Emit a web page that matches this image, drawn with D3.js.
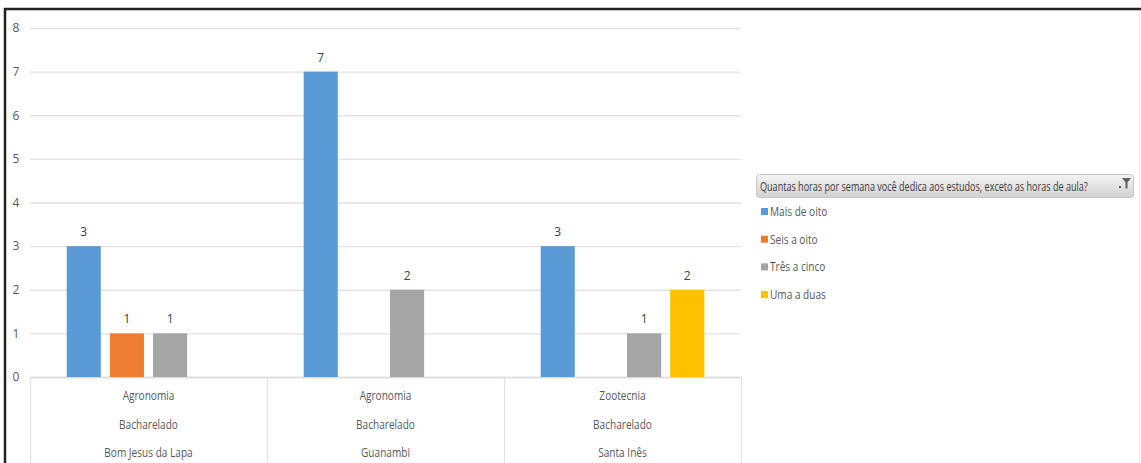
<!DOCTYPE html>
<html><head><meta charset="utf-8">
<script src="https://cdn.jsdelivr.net/npm/d3@7"></script>
<style>
body{margin:0;background:#fff;}
svg{display:block;font-family:"Open Sans",sans-serif;}
</style></head>
<body><svg id="c" width="1141" height="463"></svg>
<script>
const categories = [
  ["Agronomia","Bacharelado","Bom Jesus da Lapa"],
  ["Agronomia","Bacharelado","Guanambi"],
  ["Zootecnia","Bacharelado","Santa Inês"]
];
const seriesNames = ["Mais de oito","Seis a oito","Três a cinco","Uma a duas"];
const seriesColors = ["#5b9bd5","#ed7d31","#a5a5a5","#ffc000"];
const maisDeOito = [3,7,3];
const seisAOito = [1,null,null];
const tresACinco = [1,2,1];
const umaADuas = [null,null,2];
const yTicks = [0,1,2,3,4,5,6,7,8];
const legendTitle = "Quantas horas por semana você dedica aos estudos, exceto as horas de aula?";

const values = [maisDeOito, seisAOito, tresACinco, umaADuas];
const svg = d3.select("#c");
const W = 1141, H = 463;
const mLeft = 30, mRight = 741, mTop = 28, mBottom = 377;

// frame
svg.append("line").attr("x1",4).attr("x2",W).attr("y1",9).attr("y2",9).attr("stroke","#222").attr("stroke-width",2.5);
svg.append("line").attr("x1",5).attr("x2",5).attr("y1",8).attr("y2",H).attr("stroke","#222").attr("stroke-width",2.5);
svg.append("line").attr("x1",1139.5).attr("x2",1139.5).attr("y1",10).attr("y2",H).attr("stroke","#e8e8e8").attr("stroke-width",1);

const x0 = d3.scaleBand().domain(d3.range(categories.length)).range([mLeft,mRight]).paddingInner(0).paddingOuter(0);
const x1 = d3.scaleBand().domain(d3.range(seriesNames.length)).range([0,x0.bandwidth()]).paddingInner(0.21).paddingOuter(0.85);
const y = d3.scaleLinear().domain([0,8]).range([mBottom,mTop]);

// gridlines
const yAxis = d3.axisLeft(y).tickValues(yTicks).tickSize(-(mRight-mLeft)).tickPadding(10);
const g = svg.append("g").attr("transform",`translate(${mLeft},0)`).call(yAxis);
g.select(".domain").remove();
g.selectAll(".tick line").attr("stroke","#e3e3e3").attr("stroke-width",1.3);
g.selectAll(".tick text").attr("fill","#595959").attr("font-size",12).attr("x",-14).attr("text-anchor","middle")
  .attr("font-family","Open Sans, sans-serif");

// category box
svg.append("line").attr("x1",mLeft).attr("x2",mRight).attr("y1",mBottom+0.5).attr("y2",mBottom+0.5).attr("stroke","#dcdcdc").attr("stroke-width",1.3);
const bounds = d3.range(categories.length+1).map(i => i<categories.length ? x0(i) : x0(i-1)+x0.bandwidth());
svg.selectAll(".vb").data(bounds).join("line")
  .attr("x1",d=>d+0.5).attr("x2",d=>d+0.5).attr("y1",mBottom).attr("y2",H)
  .attr("stroke","#e3e3e3").attr("stroke-width",1.3);

// bars
const groups = svg.selectAll(".grp").data(categories).join("g").attr("transform",(d,i)=>`translate(${x0(i)},0)`);
groups.each(function(cat, ci){
  const gg = d3.select(this);
  values.forEach((arr, si) => {
    const v = arr[ci];
    if (v == null) return;
    gg.append("rect").attr("x",x1(si)).attr("width",x1.bandwidth())
      .attr("y",y(v)).attr("height",y(0)-y(v)).attr("fill",seriesColors[si]);
    gg.append("text").attr("x",x1(si)+x1.bandwidth()/2).attr("y",y(v)-10)
      .attr("text-anchor","middle").attr("fill","#404040").attr("font-size",12).text(v);
  });
  cat.forEach((lab, li) => {
    gg.append("text").attr("x",x0.bandwidth()/2).attr("y",400+li*28.5)
      .attr("text-anchor","middle").attr("fill","#595959").attr("font-size",12).text(lab);
  });
});

// legend
const defs = svg.append("defs");
const grad = defs.append("linearGradient").attr("id","lg").attr("x1",0).attr("y1",0).attr("x2",0).attr("y2",1);
grad.append("stop").attr("offset","0%").attr("stop-color","#f4f4f4");
grad.append("stop").attr("offset","100%").attr("stop-color","#d2d2d2");
svg.append("rect").attr("x",756.5).attr("y",174.5).attr("width",377).attr("height",23).attr("rx",3)
  .attr("fill","url(#lg)").attr("stroke","#c8c8c8");
svg.append("text").attr("class","ltitle").attr("x",760).attr("y",190.5).attr("font-size",12).attr("fill","#404040").text(legendTitle);
// filter icon
svg.append("path").attr("d","M1122,178 h9 l-3.5,4.5 v6 h-2 v-6 z").attr("fill","#606060");
svg.append("rect").attr("x",1119).attr("y",186).attr("width",2).attr("height",2).attr("fill","#606060");

const leg = svg.selectAll(".li").data(seriesNames).join("g").attr("transform",(d,i)=>`translate(761,${212+i*27.7})`);
leg.append("rect").attr("x",0).attr("y",-4).attr("width",7).attr("height",7).attr("fill",(d,i)=>seriesColors[i]);
leg.append("text").attr("x",9).attr("y",4).attr("font-size",12).attr("fill","#595959").text(d=>d);

// condense text horizontally to mimic the narrow original font
svg.selectAll("text").each(function(){
  if (this.textContent.length <= 1) return;
  const t = d3.select(this);
  const len = this.getComputedTextLength();
  const s = t.classed("ltitle") ? 328/len : 0.84;
  const tx = +t.attr("x") || 0, ty = +t.attr("y") || 0;
  const dy = t.attr("dy");
  t.attr("x",0).attr("y",0).attr("transform",`translate(${tx},${ty}) scale(${s},1)`);
});
</script></body></html>
